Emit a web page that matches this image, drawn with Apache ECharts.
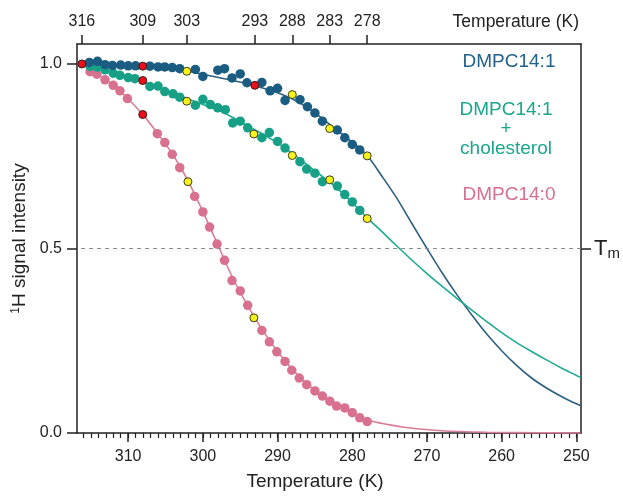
<!DOCTYPE html>
<html>
<head>
<meta charset="utf-8">
<script src="https://cdn.jsdelivr.net/npm/echarts@6/dist/echarts.min.js"></script>
<style>
  html, body { margin: 0; padding: 0; background: #fff; }
  #chart { width: 623px; height: 496px; }
</style>
</head>
<body>
<div id="chart"></div>
<script>
  // measured points: temperature (K) and 1H signal intensity
  const blueT = [315.2, 314.1, 313.1, 312.1, 311.0, 310.0, 309.0, 307.1, 306.0, 305.1, 304.1, 303.1, 301.0, 300.0, 298.0, 297.1, 296.1, 295.0, 294.1, 292.1, 291.0, 290.0, 289.0, 287.0, 286.0, 285.0, 284.0, 282.0, 281.0, 280.0, 279.0];
  const blueV = [1.004, 1.007, 0.998, 0.996, 0.997, 0.995, 0.995, 0.994, 0.992, 0.992, 0.990, 0.987, 0.985, 0.966, 0.983, 0.987, 0.962, 0.973, 0.949, 0.950, 0.927, 0.934, 0.901, 0.903, 0.884, 0.867, 0.845, 0.821, 0.800, 0.782, 0.767];

  const tealT = [315.1, 314.1, 313.1, 312.0, 311.1, 310.0, 309.1, 307.1, 306.0, 305.1, 304.0, 303.1, 301.0, 300.0, 299.0, 298.0, 297.0, 296.0, 295.0, 294.0, 292.1, 291.1, 290.0, 289.0, 287.0, 286.1, 285.0, 284.0, 282.0, 281.0, 280.0, 279.0];
  const tealV = [0.993, 0.991, 0.984, 0.975, 0.969, 0.963, 0.960, 0.939, 0.940, 0.925, 0.919, 0.910, 0.888, 0.904, 0.890, 0.881, 0.876, 0.840, 0.845, 0.827, 0.800, 0.814, 0.790, 0.772, 0.735, 0.715, 0.704, 0.681, 0.669, 0.646, 0.626, 0.603];

  const pinkT = [315.1, 314.2, 313.1, 312.0, 311.1, 310.1, 306.1, 305.1, 304.1, 303.1, 301.1, 300.0, 299.1, 298.1, 297.1, 296.1, 295.0, 294.0, 292.1, 291.1, 290.1, 289.0, 288.1, 287.1, 286.1, 285.0, 284.0, 283.0, 282.1, 281.0, 280.0, 279.0, 278.0];
  const pinkV = [0.979, 0.972, 0.957, 0.942, 0.927, 0.906, 0.811, 0.787, 0.755, 0.719, 0.641, 0.599, 0.558, 0.512, 0.468, 0.413, 0.385, 0.346, 0.278, 0.247, 0.220, 0.194, 0.170, 0.149, 0.131, 0.114, 0.100, 0.086, 0.073, 0.068, 0.055, 0.041, 0.031];

  // fitted curves, every 2 K
  const fitT = [316.8, 314, 312, 310, 308, 306, 304, 302, 300, 298, 296, 294, 292, 290, 288, 286, 284, 282, 280, 278, 276, 274, 272, 270, 268, 266, 264, 262, 260, 258, 256, 254, 252, 250, 249.4];
  const blueFitV = [1.0, 0.999, 0.998, 0.996, 0.994, 0.991, 0.987, 0.980, 0.972, 0.964, 0.955, 0.946, 0.935, 0.922, 0.905, 0.882, 0.852, 0.820, 0.788, 0.752, 0.695, 0.635, 0.567, 0.500, 0.435, 0.375, 0.320, 0.268, 0.223, 0.183, 0.149, 0.122, 0.099, 0.079, 0.074];
  const tealFitV = [1.0, 0.988, 0.976, 0.964, 0.951, 0.937, 0.922, 0.905, 0.890, 0.875, 0.855, 0.832, 0.810, 0.786, 0.757, 0.726, 0.695, 0.663, 0.624, 0.583, 0.545, 0.506, 0.468, 0.432, 0.398, 0.365, 0.333, 0.302, 0.272, 0.245, 0.221, 0.198, 0.176, 0.156, 0.150];
  const pinkFitT = [316.2, 314, 312, 310, 308, 306, 304, 302, 300, 298, 296, 294, 292, 290, 288, 286, 284, 282, 280, 278, 275, 272.8, 268, 262, 255, 249.4];
  const pinkFitV = [1.0, 0.97, 0.943, 0.905, 0.862, 0.81, 0.754, 0.684, 0.6, 0.51, 0.42, 0.345, 0.278, 0.221, 0.172, 0.132, 0.1, 0.075, 0.055, 0.035, 0.022, 0.015, 0.006, 0.002, 0.0005, 0];

  // highlighted points
  const redT = [316.2, 308.05, 308.05, 308.05, 293.04];
  const redV = [1.0, 0.994, 0.955, 0.863, 0.942];
  const yellowT = [302.15, 302.15, 302.0, 293.17, 293.17, 288.03, 288.03, 283.02, 283.02, 278.0, 278.0];
  const yellowV = [0.980, 0.899, 0.681, 0.810, 0.312, 0.917, 0.752, 0.825, 0.686, 0.751, 0.581];

  // axes
  const bottomTicks = [310, 300, 290, 280, 270, 260, 250];
  const topTickPos = [316.2, 308.05, 302.15, 293.04, 288.03, 283.02, 278.0];
  const topTickLabels = ['316', '309', '303', '293', '288', '283', '278'];
  const yTicks = [0, 0.5, 1.0];
  const tm = 0.5;

  const minorTicks = [];
  for (let t = 250; t <= 316; t++) minorTicks.push(t);

  const zip = (a, b) => a.map((v, i) => [v, b[i]]);
  const font = "'Liberation Sans', Arial, sans-serif";
  const axisColor = '#222';
  const tMin = 249.37, tMax = 316.85, vMax = 1.054;

  const chart = echarts.init(document.getElementById('chart'));

  const fitLine = (name, t, v, color) => ({
    name: name, type: 'line', smooth: 0.3, showSymbol: false, z: 2,
    data: zip(t, v),
    lineStyle: { color: color, width: 1.6 }
  });

  const option = {
    animation: false,
    grid: { left: 77, right: 41, top: 44, bottom: 60 },
    textStyle: { fontFamily: font },
    xAxis: [
      {
        type: 'value', position: 'bottom', inverse: true, min: tMin, max: tMax,
        axisLine: { lineStyle: { color: axisColor, width: 1.5 } },
        axisTick: { customValues: bottomTicks, length: 9, lineStyle: { color: axisColor, width: 1.5 } },
        axisLabel: { customValues: bottomTicks, fontSize: 16, color: axisColor, margin: 16, fontFamily: font },
        splitLine: { show: false },
        name: 'Temperature (K)', nameLocation: 'middle', nameGap: 39,
        nameTextStyle: { fontSize: 19, color: axisColor, fontFamily: font, padding: [0, 28, 0, 0] }
      },
      {
        type: 'value', position: 'bottom', inverse: true, min: tMin, max: tMax,
        axisLine: { show: false },
        axisTick: { customValues: minorTicks, length: 5, lineStyle: { color: axisColor, width: 1.2 } },
        axisLabel: { show: false },
        splitLine: { show: false }
      },
      {
        type: 'value', position: 'top', inverse: true, min: tMin, max: tMax,
        axisLine: { lineStyle: { color: axisColor, width: 1.5 } },
        axisTick: { customValues: topTickPos, length: 9, lineStyle: { color: axisColor, width: 1.5 } },
        axisLabel: {
          customValues: topTickPos, fontSize: 16, color: axisColor, margin: 14, fontFamily: font,
          formatter: v => {
            const i = topTickPos.indexOf(v);
            return i >= 0 ? topTickLabels[i] : '';
          }
        },
        splitLine: { show: false }
      }
    ],
    yAxis: [
      {
        type: 'value', position: 'left', min: 0, max: vMax,
        axisLine: { show: true, lineStyle: { color: axisColor, width: 1.5 } },
        axisTick: { show: true, customValues: yTicks, length: 10, lineStyle: { color: axisColor, width: 1.5 } },
        axisLabel: { customValues: yTicks, fontSize: 16, color: axisColor, margin: 15, fontFamily: font,
          formatter: v => v.toFixed(1) },
        splitLine: { show: false },
        name: '{sup|1}H signal intensity', nameLocation: 'middle', nameGap: 40,
        nameTextStyle: {
          fontSize: 19, color: axisColor, fontFamily: font,
          rich: {
            sup: { fontSize: 12, verticalAlign: 'top', padding: [0, 0, 8, 0], color: axisColor, fontFamily: font }
          }
        }
      },
      {
        type: 'value', position: 'right', min: 0, max: vMax,
        axisLine: { show: true, lineStyle: { color: axisColor, width: 1.5 } },
        axisTick: { show: true, customValues: [tm], length: 10, lineStyle: { color: axisColor, width: 1.5 } },
        axisLabel: {
          customValues: [tm], margin: 13, formatter: () => '{t|T}{m|m}',
          rich: {
            t: { fontSize: 22, color: axisColor, fontFamily: font },
            m: { fontSize: 15, color: axisColor, fontFamily: font, padding: [10, 0, 0, 0] }
          }
        },
        splitLine: { show: false }
      }
    ],
    graphic: [
      { type: 'text', x: 579, y: 22, style: { text: 'Temperature (K)', fontSize: 17.5, fontFamily: font, fill: axisColor, align: 'right', verticalAlign: 'middle' } },
      { type: 'text', x: 509, y: 62, style: { text: 'DMPC14:1', fontSize: 19, fontFamily: font, fill: '#22628a', align: 'center', verticalAlign: 'middle' } },
      { type: 'text', x: 506, y: 110, style: { text: 'DMPC14:1', fontSize: 19, fontFamily: font, fill: '#1ba68d', align: 'center', verticalAlign: 'middle' } },
      { type: 'text', x: 506, y: 129, style: { text: '+', fontSize: 19, fontFamily: font, fill: '#1ba68d', align: 'center', verticalAlign: 'middle' } },
      { type: 'text', x: 506, y: 149, style: { text: 'cholesterol', fontSize: 19, fontFamily: font, fill: '#1ba68d', align: 'center', verticalAlign: 'middle' } },
      { type: 'text', x: 509, y: 195, style: { text: 'DMPC14:0', fontSize: 19, fontFamily: font, fill: '#d7708e', align: 'center', verticalAlign: 'middle' } }
    ],
    series: [
      Object.assign(fitLine('DMPC14:1 fit', fitT, blueFitV, '#2d5f80'), {
        markLine: {
          silent: true, symbol: 'none', label: { show: false },
          lineStyle: { color: '#8a8a8a', type: [4, 4], width: 1.2 },
          data: [{ yAxis: tm }]
        }
      }),
      fitLine('DMPC14:1 + cholesterol fit', fitT, tealFitV, '#1faa92'),
      fitLine('DMPC14:0 fit', pinkFitT, pinkFitV, '#d97d98'),
      {
        name: 'DMPC14:0', type: 'scatter', symbolSize: 9.5, z: 3,
        data: zip(pinkT, pinkV), itemStyle: { color: '#d8718f', opacity: 1 }
      },
      {
        name: 'DMPC14:1 + cholesterol', type: 'scatter', symbolSize: 9.5, z: 3,
        data: zip(tealT, tealV), itemStyle: { color: '#18a087', opacity: 1 }
      },
      {
        name: 'DMPC14:1', type: 'scatter', symbolSize: 9.5, z: 3,
        data: zip(blueT, blueV), itemStyle: { color: '#1a5c82', opacity: 1 }
      },
      {
        name: 'red', type: 'scatter', symbolSize: 8, z: 4,
        data: zip(redT, redV), itemStyle: { color: '#e8101a', borderColor: '#3a1a1a', borderWidth: 1, opacity: 1 }
      },
      {
        name: 'yellow', type: 'scatter', symbolSize: 8, z: 4,
        data: zip(yellowT, yellowV), itemStyle: { color: '#f6f21c', borderColor: '#3a3a1a', borderWidth: 1, opacity: 1 }
      }
    ]
  };

  chart.setOption(option);
  window.addEventListener('resize', () => {
    chart.resize();
  });
</script>
</body>
</html>
